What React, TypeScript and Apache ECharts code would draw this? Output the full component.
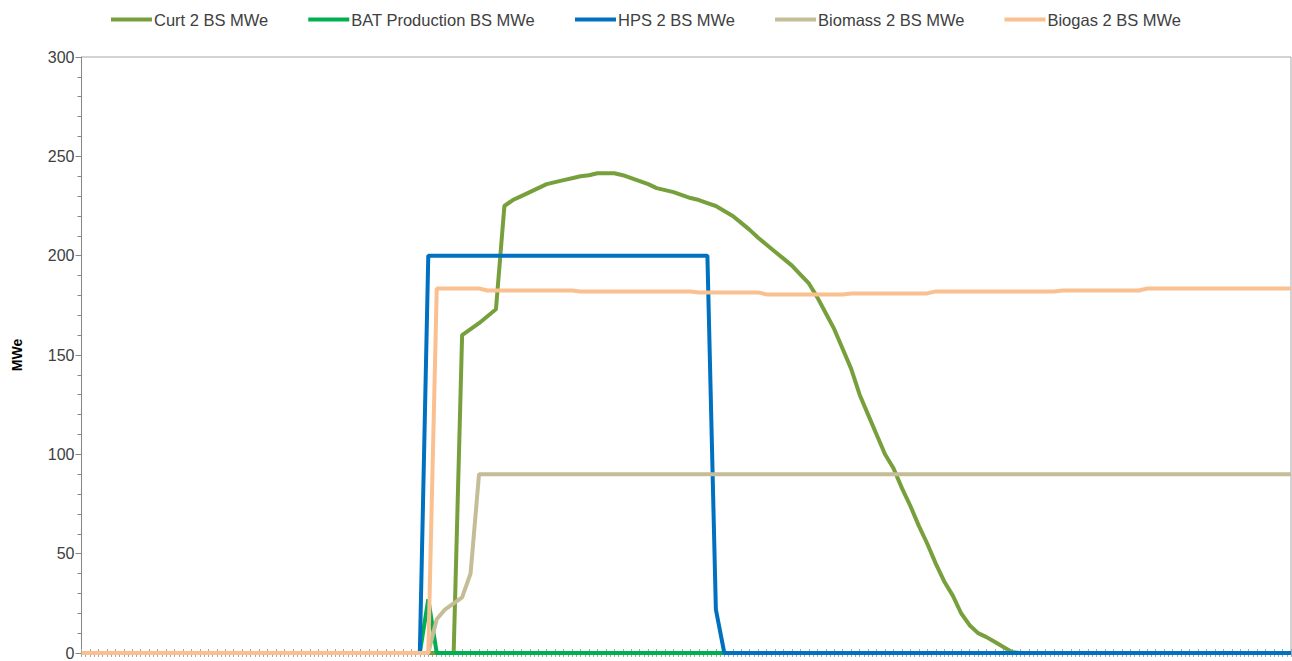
import React, { useEffect, useRef } from "react";
import * as echarts from "echarts";

// 144 intervals (10-minute steps), index 0..143
const N = 144;

const seriesNames = [
  "Curt 2 BS MWe",
  "BAT Production BS MWe",
  "HPS 2 BS MWe",
  "Biomass 2 BS MWe",
  "Biogas 2 BS MWe",
];

const seriesColors = ["#77A03D", "#00B050", "#0070C0", "#C4BD97", "#FAC090"];

const yTicks = [0, 50, 100, 150, 200, 250, 300];

// Curtailment, non-zero part starting at index 45
const curtStart = 45;
const curtValues = [
  160, 163, 166, 169.5, 173, 225, 228, 230, 232, 234, 236, 237, 238, 239, 240,
  240.5, 241.5, 241.5, 241.5, 240.5, 239, 237.5, 236, 234, 233, 232, 230.5, 229,
  228, 226.5, 225, 222.5, 220, 216.5, 213, 209, 205.5, 202, 198.5, 195, 190.5,
  186, 179, 171, 163, 153, 143, 130, 120, 110, 100, 93, 83, 74, 64, 55, 45, 36,
  29, 20, 14, 10, 8, 5.5, 3, 0.5,
];

// Battery production: a single spike
const batStart = 41;
const batValues = [27];

// Hydro pumped storage
const hpsStart = 41;
const hpsValues = [
  200, 200, 200, 200, 200, 200, 200, 200, 200, 200, 200, 200, 200, 200, 200, 200,
  200, 200, 200, 200, 200, 200, 200, 200, 200, 200, 200, 200, 200, 200, 200, 200,
  200, 200, 22,
];

// Biomass ramp, then flat 90 until the end
const biomassStart = 42;
const biomassRamp = [17, 22, 25, 28, 40];
const biomassFlat = 90;

// Biogas (from index 42)
const biogasStart = 42;
const biogasValues = [
  183.5, 183.5, 183.5, 183.5, 183.5, 183.5, 182.5, 182.5, 182.5, 182.5, 182.5,
  182.5, 182.5, 182.5, 182.5, 182.5, 182.5, 182, 182, 182, 182, 182, 182, 182,
  182, 182, 182, 182, 182, 182, 182, 181.5, 181.5, 181.5, 181.5, 181.5, 181.5,
  181.5, 181.5, 180.5, 180.5, 180.5, 180.5, 180.5, 180.5, 180.5, 180.5, 180.5,
  180.5, 181, 181, 181, 181, 181, 181, 181, 181, 181, 181, 182, 182, 182, 182,
  182, 182, 182, 182, 182, 182, 182, 182, 182, 182, 182, 182.5, 182.5, 182.5,
  182.5, 182.5, 182.5, 182.5, 182.5, 182.5, 182.5, 183.5, 183.5, 183.5, 183.5,
  183.5, 183.5, 183.5, 183.5, 183.5, 183.5, 183.5, 183.5, 183.5, 183.5, 183.5,
  183.5, 183.5, 183.5,
];

function place(start: number, vals: number[], tail: number): number[] {
  const out: number[] = [];
  for (let i = 0; i < N; i++) {
    const k = i - start;
    if (k < 0) out.push(0);
    else if (k < vals.length) out.push(vals[k]);
    else out.push(tail);
  }
  return out;
}

const curt = place(curtStart, curtValues, 0);
const bat = place(batStart, batValues, 0);
const hps = place(hpsStart, hpsValues, 0);
const biomass = place(biomassStart, biomassRamp, biomassFlat);
const biogas = place(biogasStart, biogasValues, biogasValues[biogasValues.length - 1]);

const allSeries = [curt, bat, hps, biomass, biogas];

export default function App() {
  const ref = useRef<HTMLDivElement>(null);

  useEffect(() => {
    document.body.style.margin = "0";
    document.body.style.overflow = "hidden";
    if (!ref.current) return;
    const chart = echarts.init(ref.current, undefined, { renderer: "svg" });
    const font = "'Liberation Sans', Arial, sans-serif";
    chart.setOption({
      animation: false,
      backgroundColor: "#ffffff",
      legend: {
        top: 6,
        left: "center",
        icon: "rect",
        itemWidth: 41,
        itemHeight: 4,
        itemGap: 40,
        textStyle: { fontFamily: font, fontSize: 16.5, color: "#404040", padding: [0, 0, 0, -3] },
        data: seriesNames,
      },
      grid: {
        left: 81.5,
        right: 1,
        top: 57,
        bottom: 7,
        show: true,
        borderColor: "#a6a6a6",
        borderWidth: 1,
      },
      xAxis: [
        {
          type: "value",
          min: 0,
          max: N - 1,
          interval: 1,
          axisLine: { show: true, lineStyle: { color: "#a6a6a6" } },
          axisTick: { show: true, inside: true, length: 4, lineStyle: { color: "#a6a6a6" } },
          axisLabel: { show: false },
          splitLine: { show: false },
        },
        {
          type: "value",
          min: 0,
          max: N - 1,
          interval: 0.5,
          position: "bottom",
          axisLine: { show: false },
          axisTick: { show: true, inside: false, length: 4, lineStyle: { color: "#a6a6a6" } },
          axisLabel: { show: false },
          splitLine: { show: false },
        },
      ],
      yAxis: {
        type: "value",
        min: 0,
        max: 300,
        interval: 50,
        name: "MWe",
        nameLocation: "middle",
        nameGap: 58,
        nameRotate: 90,
        nameTextStyle: { fontFamily: font, fontSize: 14, fontWeight: "bold", color: "#000" },
        axisLine: { show: true, lineStyle: { color: "#868686" } },
        axisTick: { show: true, length: 6, lineStyle: { color: "#868686" } },
        minorTick: { show: true, splitNumber: 5, length: 4, lineStyle: { color: "#868686" } },
        axisLabel: {
          fontFamily: font,
          fontSize: 16,
          color: "#404040",
          margin: 7,
          formatter: (v: number) => (yTicks.includes(v) ? String(v) : ""),
        },
        splitLine: { show: false },
      },
      series: allSeries.map((d, idx) => ({
        name: seriesNames[idx],
        type: "line",
        data: d.map((v, i) => [i, v]),
        showSymbol: false,
        symbol: "none",
        color: seriesColors[idx],
        lineStyle: { width: 4, color: seriesColors[idx] },
        z: 2 + idx,
      })),
    });
    return () => chart.dispose();
  }, []);

  return <div ref={ref} style={{ width: 1292, height: 661 }} />;
}
